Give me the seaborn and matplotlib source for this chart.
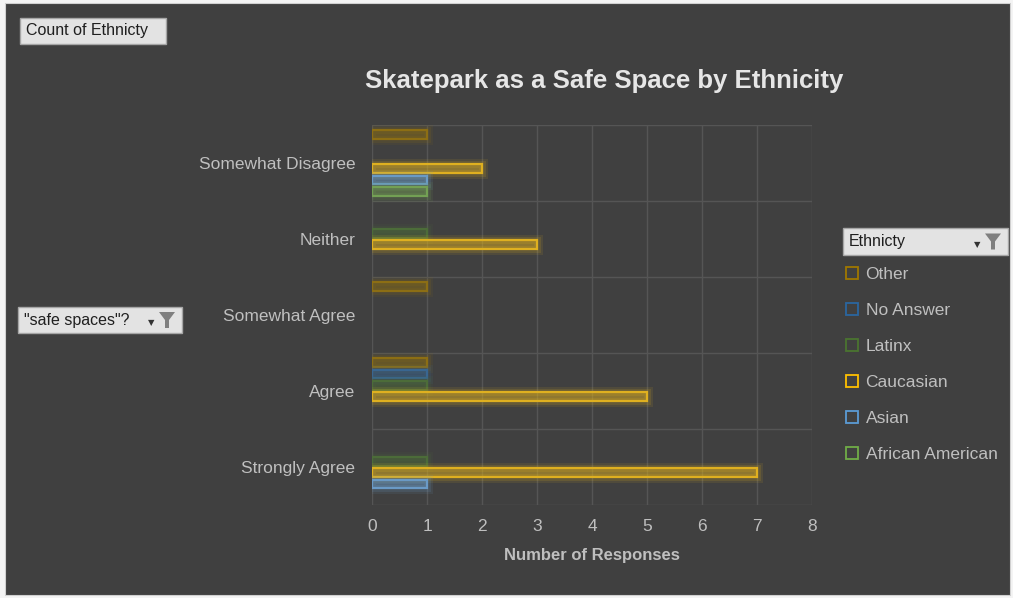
import pandas as pd
import matplotlib.pyplot as plt
import seaborn as sns
from matplotlib import patheffects
from matplotlib.lines import Line2D
from matplotlib.patches import Rectangle, Polygon

# ==============================================================================
# DADOS
# ==============================================================================
respostas = ['Somewhat Disagree', 'Neither', 'Somewhat Agree', 'Agree', 'Strongly Agree']
etnias = ['Other', 'No Answer', 'Latinx', 'Caucasian', 'Asian', 'African American']
cores = ['#A07800', '#2A66A0', '#4A7530', '#FFC000', '#5B9BD5', '#70AD47']

other = [1, 0, 1, 1, 0]
no_answer = [0, 0, 0, 1, 0]
latinx = [0, 1, 0, 1, 1]
caucasian = [2, 3, 0, 5, 7]
asian = [1, 0, 0, 0, 1]
african_american = [1, 0, 0, 0, 0]
eixo_x = [0, 1, 2, 3, 4, 5, 6, 7, 8]

series = [other, no_answer, latinx, caucasian, asian, african_american]
linhas = []
for etnia, valores in zip(etnias, series):
    for resposta, v in zip(respostas, valores):
        if v > 0:
            linhas.append({'resposta': resposta, 'etnia': etnia, 'contagem': v})
base = pd.DataFrame(linhas)

# ==============================================================================
# ESTILO
# ==============================================================================
fundo = '#404040'
cinza_texto = '#BFBFBF'
sns.set_style('dark')
plt.rcParams['font.family'] = ['Liberation Sans', 'DejaVu Sans']

fig = plt.figure(figsize=(10.13, 5.98), dpi=100)
fig.patch.set_facecolor('#F4F4F4')
fig.add_artist(Rectangle((5 / 1013, 3 / 598), 1005 / 1013, 592 / 598,
                         transform=fig.transFigure, facecolor=fundo,
                         edgecolor='#D0D0D0', linewidth=0.8, zorder=-1))

ax = fig.add_axes([372 / 1013, 1 - 505 / 598, 440 / 1013, 380 / 598])
ax.set_facecolor(fundo)

sns.barplot(data=base, x='contagem', y='resposta', hue='etnia', order=respostas,
            hue_order=etnias, palette=cores, orient='h', width=0.9, gap=0.25,
            legend=False, ax=ax, errorbar=None)

for p in ax.patches:
    c = p.get_facecolor()[:3]
    p.set_facecolor((*c, 0.28))
    p.set_edgecolor(c)
    p.set_linewidth(1.6)
    p.set_path_effects([
        patheffects.Stroke(linewidth=8, foreground=c, alpha=0.10),
        patheffects.Stroke(linewidth=5, foreground=c, alpha=0.15),
        patheffects.Normal(),
    ])

ax.set_xlim(0, 8)
ax.set_xticks(eixo_x)
ax.set_ylim(4.5, -0.5)
ax.set_yticks(range(len(respostas)))
ax.set_yticks([i - 0.5 for i in range(len(respostas) + 1)], minor=True)
ax.grid(False)
ax.grid(True, axis='x', which='major', color='#555555', linewidth=1.0)
ax.grid(True, axis='y', which='minor', color='#555555', linewidth=1.0)
ax.set_axisbelow(True)
ax.tick_params(axis='both', which='both', length=0, colors=cinza_texto, labelsize=12.5)
ax.tick_params(axis='y', pad=12)
ax.tick_params(axis='x', pad=10)
for s in ax.spines.values():
    s.set_visible(False)
ax.set_ylabel('')
ax.set_xlabel('Number of Responses', fontsize=12, fontweight='bold', color=cinza_texto, labelpad=10)

fig.text(604 / 1013, 1 - 81 / 598, 'Skatepark as a Safe Space by Ethnicity', ha='center', va='center',
         fontsize=18.5, fontweight='bold', color='#E6E6E6')

# ==============================================================================
# LEGENDA E BOTÕES DA TABELA DINÂMICA
# ==============================================================================
alcas = [Line2D([], [], linestyle='none', marker='s', markersize=8, markerfacecolor='none',
                markeredgecolor=c, markeredgewidth=1.3) for c in cores]
fig.legend(alcas, etnias, loc='upper left', bbox_to_anchor=(843 / 1013, 1 - 265 / 598),
           frameon=False, labelcolor=cinza_texto, fontsize=12.5, labelspacing=1.2,
           handlelength=0.8, handletextpad=0.4, borderaxespad=0, borderpad=0.1)


def botao(x0, y0, x1, y1, texto, filtro=False):
    fig.add_artist(Rectangle((x0 / 1013, 1 - y1 / 598), (x1 - x0) / 1013, (y1 - y0) / 598,
                             transform=fig.transFigure, facecolor='#E3E3E3',
                             edgecolor='#A6A6A6', linewidth=1))
    fig.text((x0 + 6) / 1013, 1 - (y0 + y1) / 2 / 598, texto, ha='left', va='center',
             fontsize=11.5, color='#1F1F1F')
    if filtro:
        fig.text((x1 - 31) / 1013, 1 - ((y0 + y1) / 2 + 3) / 598, '▼', ha='center', va='center',
                 fontsize=6, color='#333333', family='DejaVu Sans')
        cx, cy = x1 - 15, (y0 + y1) / 2
        pts = [(cx - 8, cy - 8), (cx + 8, cy - 8), (cx + 2, cy), (cx + 2, cy + 8),
               (cx - 2, cy + 8), (cx - 2, cy)]
        fig.add_artist(Polygon([(px / 1013, 1 - py / 598) for px, py in pts],
                               transform=fig.transFigure, facecolor='#7F7F7F', edgecolor='none'))


botao(20, 18, 166, 44, 'Count of Ethnicty')
botao(18, 307, 182, 333, '"safe spaces"?', filtro=True)
botao(843, 228, 1008, 255, 'Ethnicty', filtro=True)

plt.savefig('out.png', dpi=100, facecolor=fig.get_facecolor())
